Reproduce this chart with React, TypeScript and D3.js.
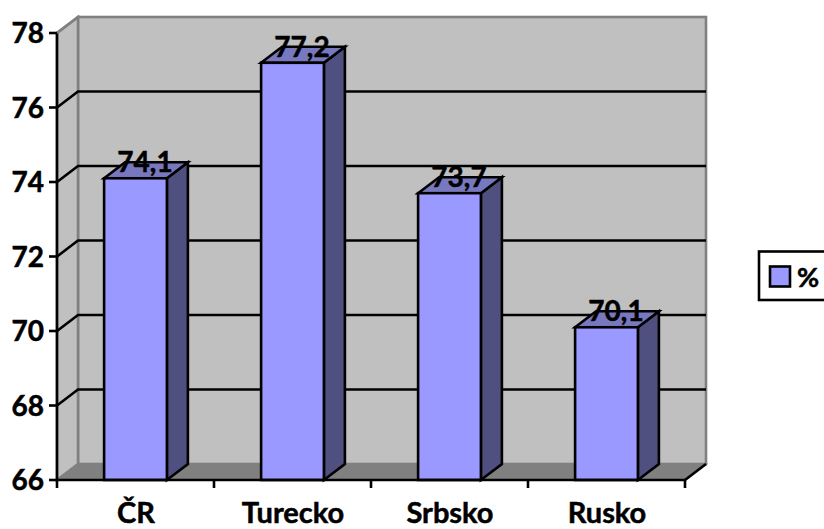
import React from "react";
import * as d3 from "d3";

const categories = ["ČR", "Turecko", "Srbsko", "Rusko"];
const values = [74.1, 77.2, 73.7, 70.1];
const valueLabels = ["74,1", "77,2", "73,7", "70,1"];
const yTicks = [66, 68, 70, 72, 74, 76, 78];
const legendLabel = "%";

const W = 824, H = 529;
const DX = 21, DY = -16;
const SW = 2.6;
const FONT = "Lato, Carlito, Calibri, sans-serif";
const textStyle = { fontFamily: FONT, fontWeight: 700, fill: "#000", stroke: "#000", strokeWidth: 0.5 } as const;

export default function App() {
  const y = d3.scaleLinear().domain([66, 78]).range([480, 33]);
  const x = d3.scaleBand<string>().domain(categories).range([57, 685]).paddingInner(0.6).paddingOuter(0.3);
  const y0 = y(66), yT = y(78), x0 = 57, x1 = 685;
  const poly = (pts: [number, number][]) => pts.map((p) => p.join(",")).join(" ");
  return (
    <svg width={W} height={H} viewBox={`0 0 ${W} ${H}`} style={{ position: "absolute", left: 0, top: 0, display: "block" }}>
      <rect x={x0 + DX} y={yT + DY} width={x1 - x0} height={y0 - yT} fill="#c0c0c0" stroke="#808080" strokeWidth={SW} />
      <polygon points={poly([[x0, y0], [x0, yT], [x0 + DX, yT + DY], [x0 + DX, y0 + DY]])} fill="#c0c0c0" stroke="#808080" strokeWidth={SW} />
      <polygon points={poly([[x0, y0], [x1, y0], [x1 + DX, y0 + DY], [x0 + DX, y0 + DY]])} fill="#808080" stroke="#808080" strokeWidth={1.5} />
      {yTicks.filter((t) => t > 66 && t < 78).map((t) => (
        <polyline key={t} points={poly([[x0, y(t)], [x0 + DX, y(t) + DY], [x1 + DX, y(t) + DY]])} fill="none" stroke="#000" strokeWidth={SW} />
      ))}
      <line x1={x1} y1={y0} x2={x1 + DX} y2={y0 + DY} stroke="#000" strokeWidth={SW} />
      {categories.map((c, i) => {
        const bx = x(c)!, bw = x.bandwidth(), by = y(values[i]);
        return (
          <g key={c} stroke="#000" strokeWidth={SW}>
            <polygon points={poly([[bx + bw, by], [bx + bw + DX, by + DY], [bx + bw + DX, y0 + DY], [bx + bw, y0]])} fill="#4f4f80" />
            <polygon points={poly([[bx, by], [bx + DX, by + DY], [bx + bw + DX, by + DY], [bx + bw, by]])} fill="#7878bf" />
            <rect x={bx} y={by} width={bw} height={y0 - by} fill="#9999ff" />
          </g>
        );
      })}
      <line x1={x0} y1={yT} x2={x0} y2={y0} stroke="#000" strokeWidth={SW} />
      <line x1={x0} y1={y0} x2={x1} y2={y0} stroke="#000" strokeWidth={SW} />
      <line x1={x0} y1={yT} x2={x0 + DX} y2={yT + DY} stroke="#808080" strokeWidth={SW} />
      {yTicks.map((t) => (
        <g key={t}>
          <line x1={x0 - 8} y1={y(t)} x2={x0} y2={y(t)} stroke="#000" strokeWidth={SW} />
          <text x={44} y={y(t) + 10} textAnchor="end" fontSize={28} {...textStyle}>{t}</text>
        </g>
      ))}
      {d3.range(5).map((i) => {
        const tx = x0 + ((x1 - x0) * i) / 4;
        return <line key={i} x1={tx} y1={y0} x2={tx} y2={y0 + 8} stroke="#000" strokeWidth={SW} />;
      })}
      {categories.map((c) => (
        <text key={c} x={x(c)! + x.bandwidth() / 2 + 0.5} y={523} textAnchor="middle" fontSize={29} {...textStyle}>{c}</text>
      ))}
      {categories.map((c, i) => (
        <text key={c} x={x(c)! + x.bandwidth() / 2 + 9.5} y={y(values[i]) - 6} textAnchor="middle" fontSize={28} {...textStyle}>{valueLabels[i]}</text>
      ))}
      <rect x={759} y={251.5} width={80} height={48.5} fill="#fff" stroke="#000" strokeWidth={SW} />
      <rect x={770} y={266.5} width={20} height={20} fill="#9999ff" stroke="#000" strokeWidth={SW} />
      <text x={797} y={287} fontSize={27} {...textStyle}>{legendLabel}</text>
    </svg>
  );
}
